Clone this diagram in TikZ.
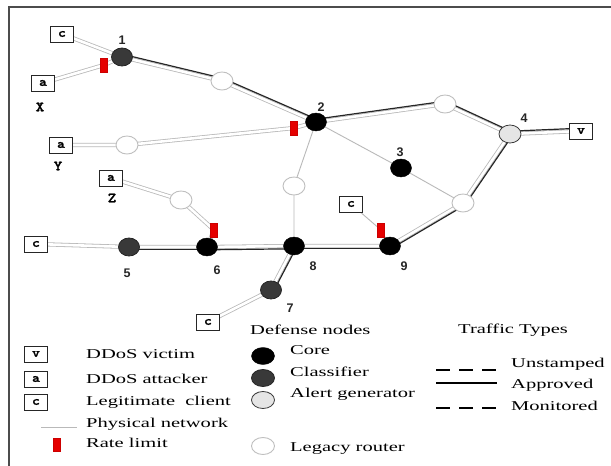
\documentclass[tikz,border=0pt]{standalone}
\usepackage{fontspec}
\setmainfont[FakeStretch=1.52]{Liberation Serif}
\newfontfamily\numf{Liberation Sans}
\newfontfamily\monob{lmmonolt10-bold.otf}[FakeBold=1.6,FakeStretch=1.15]
\usetikzlibrary{shapes.geometric,backgrounds,calc}
\tikzset{
  legacy/.style={ellipse,draw=gray!50,fill=white,line width=0.9pt,minimum width=22pt,minimum height=18pt,inner sep=0pt},
  core/.style={ellipse,fill=black,draw=black,minimum width=21pt,minimum height=18pt,inner sep=0pt},
  classif/.style={ellipse,fill=gray!45!black,draw=gray!30!black,line width=0.8pt,minimum width=21pt,minimum height=18pt,inner sep=0pt},
  alertn/.style={ellipse,fill=gray!20,draw=gray!45!black,line width=0.8pt,minimum width=22pt,minimum height=18pt,inner sep=0pt},
  hostbox/.style={rectangle,draw=black!85,line width=1pt,fill=white,minimum width=23pt,minimum height=16pt,inner sep=0pt,font=\monob\fontsize{13}{13}\selectfont},
  ratelim/.style={rectangle,fill=red!90!black,draw=red!80!black,line width=0.4pt,minimum width=7pt,minimum height=14pt,inner sep=0pt},
  numlab/.style={font=\numf\bfseries\fontsize{12.5}{12.5}\selectfont,text=black!85},
  hostlab/.style={font=\monob\fontsize{14}{14}\selectfont},
  legtext/.style={anchor=west,inner sep=0pt,font=\fontsize{13.5}{15}\selectfont},
  phys/.style={draw=gray!55,line width=0.9pt},
  dbl/.style={draw=gray!55,line width=0.8pt,double=white,double distance=2.6pt},
  apprline/.style={draw=black!85,line width=1.2pt},
  framel/.style={draw=black!70,line width=1.6pt}
}
\newcommand\apprseg[3]{\draw[apprline] ($(#1.center)!#3!90:(#2.center)$) -- ($(#2.center)!#3!-90:(#1.center)$);}
\begin{document}
\begin{tikzpicture}[x=1pt,y=-1pt]
\useasboundingbox (0,0) rectangle (611,466);
% hosts
\node[hostbox] (c1) at (62,34) {c};
\node[hostbox] (aX) at (43,83) {a};
\node[hostlab] (lX) at (40,107) {X};
\node[hostbox] (aY) at (61,145) {a};
\node[hostlab] (lY) at (58,166) {Y};
\node[hostbox] (aZ) at (111,178) {a};
\node[hostlab] (lZ) at (112,198) {Z};
\node[hostbox] (c5) at (36,244) {c};
\node[hostbox] (c7) at (208,322) {c};
\node[hostbox] (c9) at (351,204) {c};
\node[hostbox] (vv) at (581,131) {v};
% routers
\node[classif] (n1) at (122,57) {};
\node[numlab] (l1) at (122,40) {1};
\node[legacy] (L1) at (222,81) {};
\node[core] (n2) at (316,122) {};
\node[numlab] (l2) at (321,107) {2};
\node[legacy] (L2) at (127,145) {};
\node[legacy] (L3) at (294,186) {};
\node[legacy] (L4) at (181,200) {};
\node[core] (n3) at (401,168) {};
\node[numlab] (l3) at (400,152) {3};
\node[legacy] (L5) at (445,104) {};
\node[alertn] (n4) at (510,134) {};
\node[numlab] (l4) at (524,118) {4};
\node[legacy] (L6) at (463,203) {};
\node[core] (n9) at (390,246) {};
\node[numlab] (l9) at (404,266) {9};
\node[core] (n8) at (294,246) {};
\node[numlab] (l8) at (313,266) {8};
\node[core] (n6) at (207,247) {};
\node[numlab] (l6) at (217,270) {6};
\node[classif] (n5) at (129,247) {};
\node[numlab] (l5) at (127,273) {5};
\node[classif] (n7) at (271,290) {};
\node[numlab] (l7) at (290,308) {7};
% rate limits
\node[ratelim] (rl1) at (104,65) {};
\node[ratelim] (rl2) at (294,128) {};
\node[ratelim] (rl6) at (214,230) {};
\node[ratelim] (rl9) at (381,230) {};
% legend
\node[hostbox] (gv) at (36,354) {v};
\node[legtext] (tv) at (86,354) {DDoS victim};
\node[hostbox] (ga) at (36,379) {a};
\node[legtext] (ta) at (86,379) {DDoS attacker};
\node[hostbox] (gc) at (36,402) {c};
\node[legtext] (tc) at (86,402) {Legitimate\ \ client};
\coordinate (gp1) at (41,427);
\coordinate (gp2) at (77,427);
\node[legtext] (tp) at (86,424) {Physical network};
\node[ratelim,minimum height=13pt] (gr) at (57,445) {};
\node[legtext] (tr) at (86,443) {Rate limit};
\node[legtext] (tdn) at (250,330) {Defense nodes};
\node[core,minimum width=23pt,minimum height=17pt] (gcore) at (263,356) {};
\node[legtext] (tcore) at (290,350) {Core};
\node[classif,minimum width=23pt,minimum height=17pt] (gcl) at (263,378) {};
\node[legtext] (tcl) at (290,372) {Classifier};
\node[alertn,minimum width=23pt,minimum height=17pt] (gal) at (263,400) {};
\node[legtext] (tal) at (290,394) {Alert generator};
\node[legacy,minimum width=23pt,minimum height=17pt] (gle) at (263,446) {};
\node[legtext] (tle) at (290,449) {Legacy router};
\node[legtext] (ttt) at (458,330) {Traffic Types};
\coordinate (u1) at (436,370); \coordinate (u2) at (497,370);
\node[legtext] (tu) at (511,364) {Unstamped};
\coordinate (p1) at (436,383); \coordinate (p2) at (497,383);
\node[legtext] (tpv) at (511,385) {Approved};
\coordinate (m1) at (436,408); \coordinate (m2) at (497,408);
\node[legtext] (tm) at (511,406) {Monitored};
\begin{pgfonlayer}{background}
\fill[white] (0,0) rectangle (611,466);
\draw[framel] (9,466) -- (9,7) -- (611,7);
% double links
\draw[dbl] (c1.center) -- (n1.center);
\draw[dbl] (aX.center) -- (rl1.center) -- (n1.center);
\draw[dbl] (n1.center) -- (L1.center) -- (n2.center);
\draw[dbl] (aY.center) -- (L2.center) -- (rl2.center) -- (n2.center);
\draw[dbl] (n2.center) -- (L5.center) -- (n4.center);
\draw[dbl] (n4.center) -- (vv.center);
\draw[dbl] (n4.center) -- (L6.center) -- (n9.center);
\draw[dbl] (aZ.center) -- (L4.center) -- (rl6.center) -- (n6.center);
\draw[dbl] (c5.center) -- (n5.center);
\draw[dbl] (n5.center) -- (n6.center) -- (n8.center) -- (n9.center);
\draw[dbl] (n8.center) -- (n7.center) -- (c7.center);
% approved traffic
\apprseg{n1}{L1}{2.8pt}
\apprseg{L1}{n2}{2.8pt}
\apprseg{n2}{L5}{2.8pt}
\apprseg{L5}{n4}{2.8pt}
\apprseg{n4}{vv}{2.8pt}
\apprseg{n4}{L6}{2.8pt}
\apprseg{L6}{n9}{2.8pt}
\apprseg{n5}{n6}{-2.8pt}
\apprseg{n6}{n8}{-2.8pt}
\apprseg{n8}{n9}{-2.8pt}
\apprseg{n8}{n7}{2.8pt}
% single physical links
\draw[phys] (n2.center) -- (n3.center) -- (L6.center);
\draw[phys] (n2.center) -- (L3.center) -- (n8.center);
\draw[phys] (c9.center) -- (rl9.center) -- (n9.center);
% legend lines
\draw[phys,line width=0.8pt] (gp1) -- (gp2);
\draw[black,line width=1.5pt,dash pattern=on 14pt off 9pt] (u1) -- (u2);
\draw[black,line width=1.3pt] (p1) -- (p2);
\draw[black,line width=1.5pt,dash pattern=on 14pt off 9pt] (m1) -- (m2);
\end{pgfonlayer}
\end{tikzpicture}
\end{document}
